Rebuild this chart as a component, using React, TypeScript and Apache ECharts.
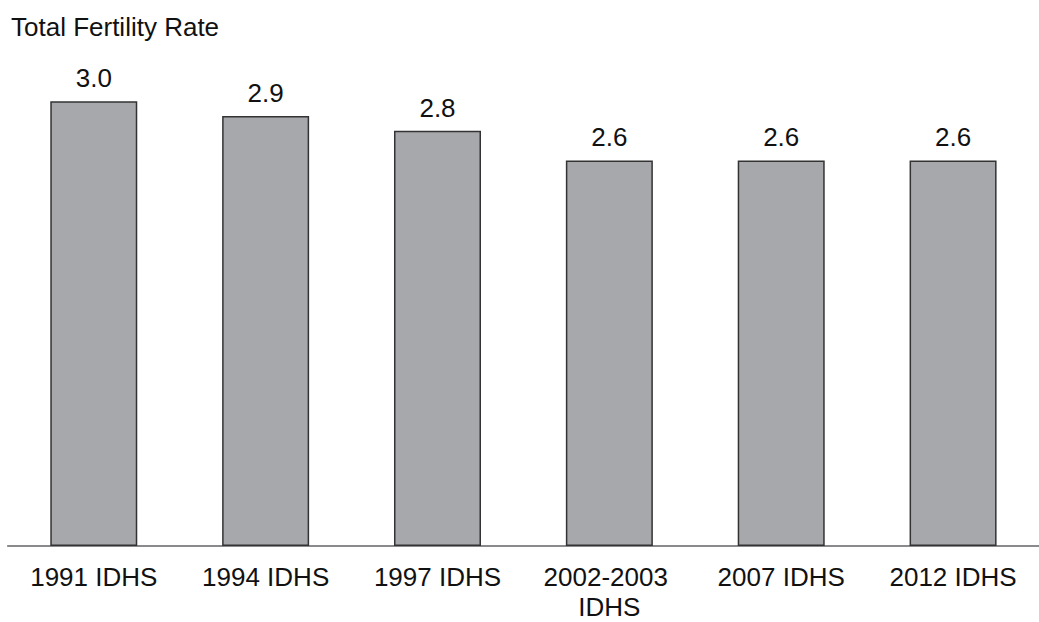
import React, { useEffect, useRef } from "react";
import * as echarts from "echarts";

const categories = ["1991 IDHS", "1994 IDHS", "1997 IDHS", "2002-2003 IDHS", "2007 IDHS", "2012 IDHS"];
const values = [3.0, 2.9, 2.8, 2.6, 2.6, 2.6];
const chartTitle = "Total Fertility Rate";

const FONT = "'Liberation Sans', Arial, Helvetica, sans-serif";

export default function App() {
  const ref = useRef<HTMLDivElement>(null);
  useEffect(() => {
    if (!ref.current) return;
    const chart = echarts.init(ref.current, null, { renderer: "svg" });
    chart.setOption({
      animation: false,
      backgroundColor: "#ffffff",
      title: {
        text: chartTitle,
        left: 11,
        top: 14,
        padding: 0,
        textStyle: { fontFamily: FONT, fontSize: 26, fontWeight: "normal", color: "#111111" },
      },
      grid: { left: 7.85, top: 27, width: 1045.8, bottom: 71, containLabel: false },
      xAxis: {
        type: "category",
        data: categories,
        boundaryGap: true,
        axisLine: { show: true, lineStyle: { color: "#8a8a8c", width: 2 } },
        axisTick: { show: false },
        axisLabel: {
          interval: 0,
          margin: 16,
          fontFamily: FONT,
          fontSize: 26,
          lineHeight: 30,
          color: "#111111",
          width: 160,
          overflow: "break",
        },
      },
      yAxis: {
        type: "value",
        min: 0,
        max: 3.5,
        show: false,
        splitLine: { show: false },
      },
      series: [
        {
          type: "bar",
          data: values,
          barWidth: 87,
          itemStyle: { color: "#a7a8ab", borderColor: "#333333", borderWidth: 1.5 },
          label: {
            show: true,
            position: "top",
            distance: 10,
            formatter: (p: any) => Number(p.value).toFixed(1),
            fontFamily: FONT,
            fontSize: 26,
            color: "#111111",
          },
        },
      ],
    });
    return () => chart.dispose();
  }, []);
  return (
    <div
      ref={ref}
      style={{ position: "absolute", left: 0, top: 0, width: 1039, height: 622, overflow: "hidden" }}
    />
  );
}
